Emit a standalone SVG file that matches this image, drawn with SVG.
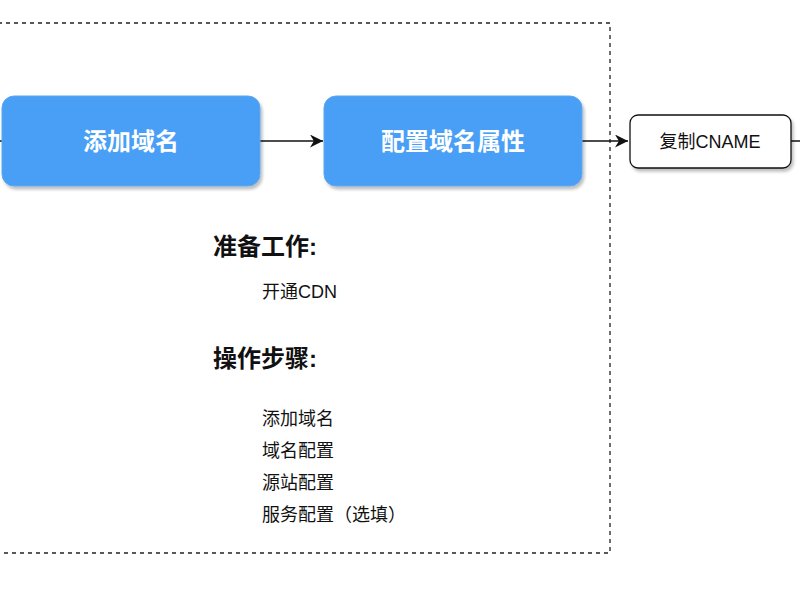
<svg xmlns="http://www.w3.org/2000/svg" width="800" height="600" viewBox="0 0 800 600">
<style>
text{font-family:"Liberation Sans","Noto Sans CJK SC",sans-serif;fill:#111}
.blue{fill:#4a9ff5;stroke:#5aa8f0;stroke-width:1;filter:url(#sh)}
.bt{font-size:24px;font-weight:bold;fill:#fff;text-anchor:middle}
.h{font-size:24px;font-weight:bold}
.t{font-size:18px}
.c{stroke:#111;stroke-width:1.5;fill:none}
</style>
<defs>
<filter id="sh" x="-10%" y="-10%" width="130%" height="140%"><feDropShadow dx="2" dy="3" stdDeviation="1.5" flood-color="#000" flood-opacity="0.25"/></filter>
<marker id="a" viewBox="0 0 10 10" refX="10" refY="5" markerWidth="13" markerHeight="13" orient="auto" markerUnits="userSpaceOnUse"><path d="M0,0 L10,5 L0,10 L3,5 Z" fill="#111"/></marker>
</defs>
<rect x="-10" y="23" width="620" height="530" fill="none" stroke="#222" stroke-width="1.3" stroke-dasharray="4,4"/>
<g id="connectors">
<path class="c" d="M260,141 H323" marker-end="url(#a)"/>
<path class="c" d="M582,141 H628" marker-end="url(#a)"/>
<path class="c" d="M791,141 H800"/>
<path class="c" d="M-5,141 H2"/>
</g>
<g id="n1"><rect class="blue" x="2" y="96" width="258" height="90" rx="12"/><text class="bt" x="131" y="150">添加域名</text></g>
<g id="n2"><rect class="blue" x="324" y="96" width="258" height="90" rx="12"/><text class="bt" x="453" y="150">配置域名属性</text></g>
<g id="n3"><rect x="630" y="115" width="161" height="53" rx="8" fill="#fff" stroke="#111" stroke-width="1.3" filter="url(#sh)"/><text class="t" x="710" y="148" text-anchor="middle">复制CNAME</text></g>
<g id="notes">
<text class="h" x="213" y="255">准备工作:</text>
<text class="t" x="262" y="298">开通CDN</text>
<text class="h" x="213" y="367">操作步骤:</text>
<text class="t" x="262" y="425">添加域名</text>
<text class="t" x="262" y="457">域名配置</text>
<text class="t" x="262" y="489">源站配置</text>
<text class="t" x="262" y="521">服务配置（选填）</text>
</g>
</svg>
